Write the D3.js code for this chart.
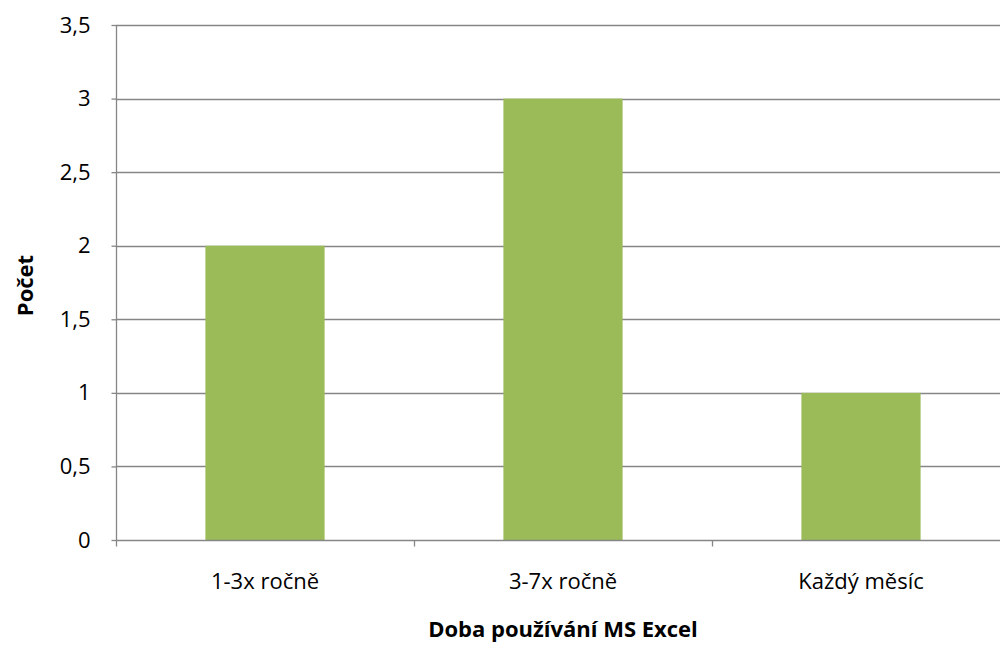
<!DOCTYPE html>
<html>
<head>
<meta charset="utf-8">
<script src="https://cdn.jsdelivr.net/npm/d3@7"></script>
<style>
  body { margin: 0; background: #fff; }
  svg { display: block; }
  text { font-family: "Open Sans", "Lato", sans-serif; fill: #000; }
</style>
</head>
<body>
<svg id="chart" width="1000" height="646"></svg>
<script>
const categories = ["1-3x ročně", "3-7x ročně", "Každý měsíc"];
const counts = [2, 3, 1];
const yTicks = [0, 0.5, 1, 1.5, 2, 2.5, 3, 3.5];
const xTitle = "Doba používání MS Excel";
const yTitle = "Počet";

const svg = d3.select("#chart");
const margin = { left: 116, right: -10, top: 25, bottom: 106 };
const W = 1000, H = 646;
const x0 = margin.left, x1 = W - margin.right;
const y0 = H - margin.bottom, y1 = margin.top;

const x = d3.scaleBand().domain(categories).range([x0, x1]).paddingInner(0.6).paddingOuter(0.3);
const xEdge = d3.scaleBand().domain(categories).range([x0, x1]).padding(0);
const y = d3.scaleLinear().domain([0, 3.5]).range([y0, y1]);
const fmt = v => String(v).replace(".", ",");
const gridColor = "#868686";
const labelSize = "22px";
const titleSize = "22px";

// horizontal gridlines
svg.append("g").selectAll("line").data(yTicks.filter(d => d > 0)).join("line")
  .attr("x1", x0).attr("x2", x1)
  .attr("y1", d => Math.round(y(d)) + 0.5).attr("y2", d => Math.round(y(d)) + 0.5)
  .attr("stroke", gridColor).attr("stroke-width", 1.3);

// bars
svg.append("g").selectAll("rect").data(counts).join("rect")
  .attr("x", (d, i) => x(categories[i]))
  .attr("width", x.bandwidth())
  .attr("y", d => y(d))
  .attr("height", d => y(0) - y(d))
  .attr("fill", "#9BBB59");

// y axis
const yAxis = d3.axisLeft(y).tickValues(yTicks).tickFormat(fmt).tickSize(5).tickPadding(21);
const gy = svg.append("g").attr("transform", `translate(${x0 + 0.5},0)`).call(yAxis);
gy.select(".domain").attr("stroke", gridColor).attr("stroke-width", 1.3).attr("d", `M0,${y1}V${y0}`);
gy.selectAll(".tick line").attr("stroke", gridColor).attr("stroke-width", 1.3);
gy.selectAll(".tick text").style("font-size", labelSize).style("font-family", "'Open Sans', sans-serif");

// x axis
const gx = svg.append("g").attr("transform", `translate(0,${Math.round(y0) + 0.5})`);
gx.append("line").attr("x1", x0).attr("x2", x1).attr("stroke", gridColor).attr("stroke-width", 1.3);
const edges = categories.map(c => xEdge(c)).concat([x1]);
gx.selectAll("line.tk").data(edges).join("line").attr("class", "tk")
  .attr("x1", d => Math.round(d) + 0.5).attr("x2", d => Math.round(d) + 0.5)
  .attr("y1", 0).attr("y2", 6)
  .attr("stroke", gridColor).attr("stroke-width", 1.3);
gx.selectAll("text").data(categories).join("text")
  .attr("x", d => xEdge(d) + xEdge.bandwidth() / 2)
  .attr("y", 48.5)
  .attr("text-anchor", "middle")
  .style("font-size", labelSize)
  .text(d => d);

// axis titles
svg.append("text")
  .attr("x", (x0 + x1) / 2).attr("y", 637)
  .attr("text-anchor", "middle")
  .style("font-size", titleSize).style("font-weight", "bold")
  .text(xTitle);
svg.append("text")
  .attr("transform", `translate(33,${(y0 + y1) / 2 + 3}) rotate(-90)`)
  .attr("text-anchor", "middle")
  .style("font-size", titleSize).style("font-weight", "bold")
  .text(yTitle);
</script>
</body>
</html>
